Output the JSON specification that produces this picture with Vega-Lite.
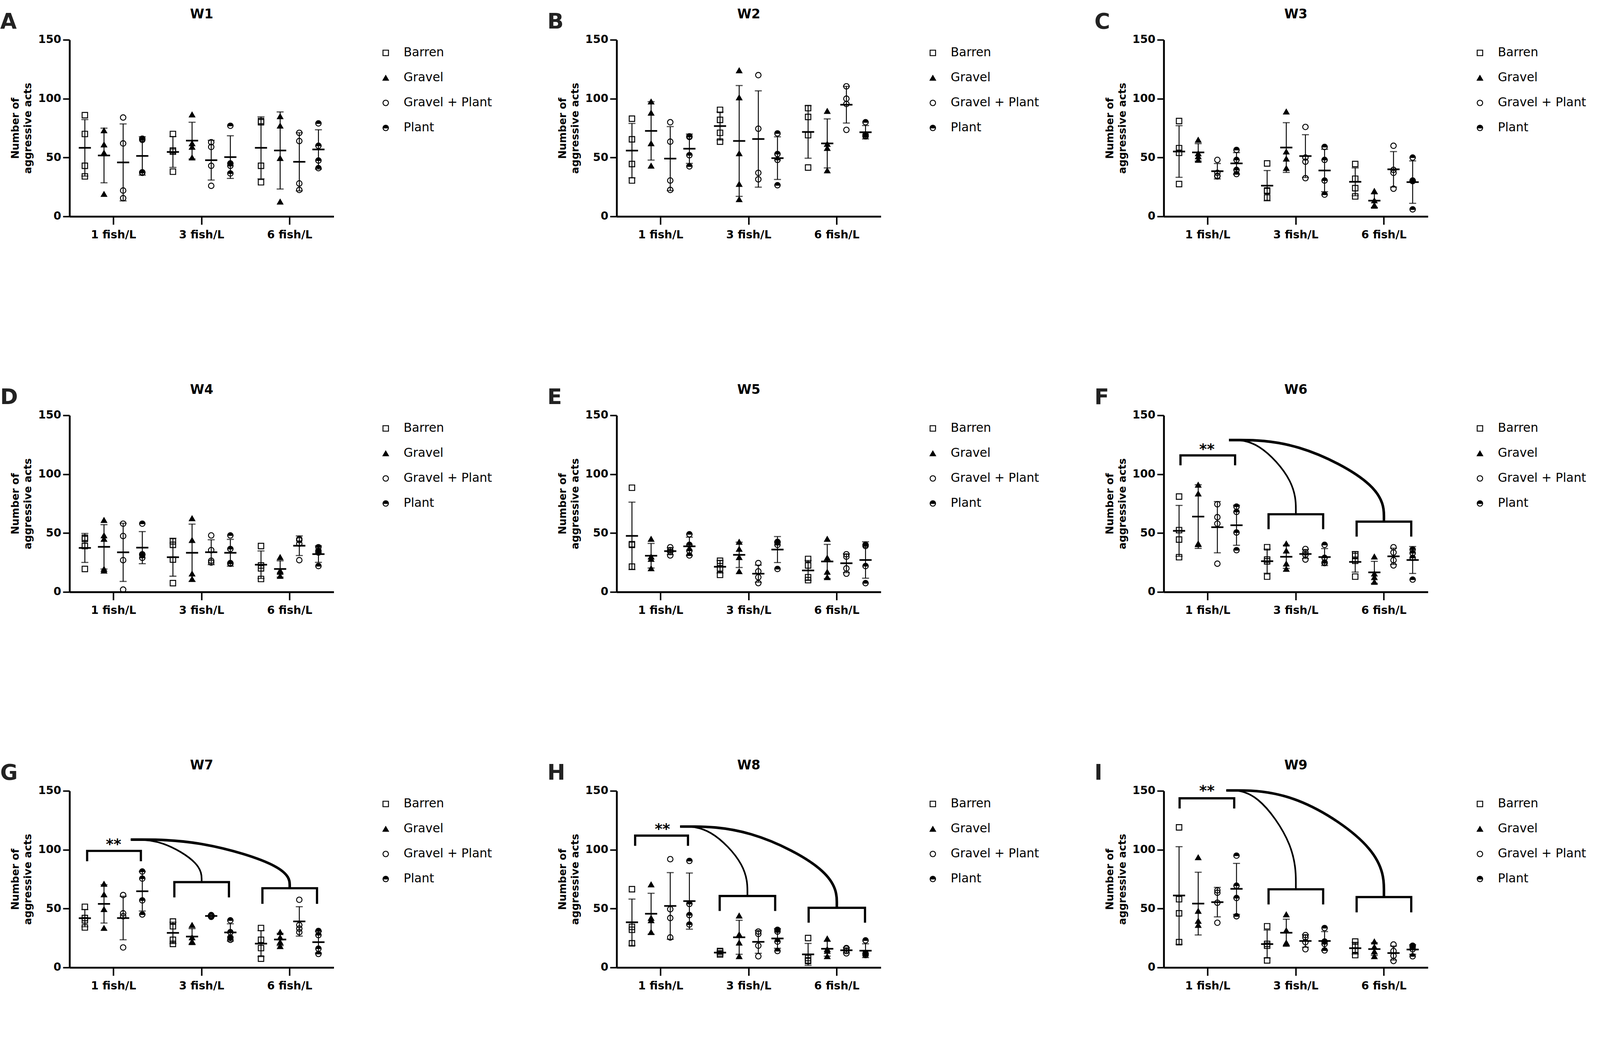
{
  "$schema": "https://vega.github.io/schema/vega-lite/v6.json",
  "background": "white",
  "padding": {"left": 0, "top": 20.9, "right": 2, "bottom": 0},
  "columns": 3,
  "bounds": "full",
  "spacing": {"row": 366, "column": 122.6},
  "resolve": {"scale": {"shape": "independent", "fill": "independent", "stroke": "independent"}},
  "config": {
    "view": {"stroke": null},
    "axis": {"grid": false, "labelFont": "DejaVu Sans", "labelFontWeight": "bold", "labelFontSize": 28.3, "labelColor": "black", "domainColor": "black", "domainWidth": 4.7, "tickColor": "black", "tickWidth": 3.8, "titleFont": "DejaVu Sans", "titleFontWeight": "bold", "titleFontSize": 26.4, "titleColor": "black"},
    "axisY": {"tickSize": 17, "labelPadding": 4.7, "titlePadding": 11.3, "titleLineHeight": 32},
    "axisX": {"tickSize": 20.8, "labelPadding": 13.2, "labelAngle": 0},
    "legend": {"orient": "right", "offset": 99, "padding": 17.9, "labelFont": "DejaVu Sans", "labelFontSize": 31.1, "labelColor": "black", "labelOffset": 30.2, "labelLimit": 600, "rowPadding": 32, "symbolSize": 196, "symbolStrokeWidth": 2.36, "symbolStrokeColor": "black"}
  },
  "datasets": {
    "obs": [
      {"wk":"W1","dens":"1 fish/L","sub":"Barren","acts":86},{"wk":"W1","dens":"1 fish/L","sub":"Barren","acts":70},{"wk":"W1","dens":"1 fish/L","sub":"Barren","acts":43},{"wk":"W1","dens":"1 fish/L","sub":"Barren","acts":34},
      {"wk":"W1","dens":"1 fish/L","sub":"Gravel","acts":73},{"wk":"W1","dens":"1 fish/L","sub":"Gravel","acts":61},{"wk":"W1","dens":"1 fish/L","sub":"Gravel","acts":54},{"wk":"W1","dens":"1 fish/L","sub":"Gravel","acts":19},
      {"wk":"W1","dens":"1 fish/L","sub":"Gravel + Plant","acts":84},{"wk":"W1","dens":"1 fish/L","sub":"Gravel + Plant","acts":62},{"wk":"W1","dens":"1 fish/L","sub":"Gravel + Plant","acts":22},{"wk":"W1","dens":"1 fish/L","sub":"Gravel + Plant","acts":15.5},
      {"wk":"W1","dens":"1 fish/L","sub":"Plant","acts":66},{"wk":"W1","dens":"1 fish/L","sub":"Plant","acts":65},{"wk":"W1","dens":"1 fish/L","sub":"Plant","acts":37.5},{"wk":"W1","dens":"1 fish/L","sub":"Plant","acts":37},
      {"wk":"W1","dens":"3 fish/L","sub":"Barren","acts":70},{"wk":"W1","dens":"3 fish/L","sub":"Barren","acts":56},{"wk":"W1","dens":"3 fish/L","sub":"Barren","acts":55},{"wk":"W1","dens":"3 fish/L","sub":"Barren","acts":38},
      {"wk":"W1","dens":"3 fish/L","sub":"Gravel","acts":86.5},{"wk":"W1","dens":"3 fish/L","sub":"Gravel","acts":62},{"wk":"W1","dens":"3 fish/L","sub":"Gravel","acts":59},{"wk":"W1","dens":"3 fish/L","sub":"Gravel","acts":50},
      {"wk":"W1","dens":"3 fish/L","sub":"Gravel + Plant","acts":63},{"wk":"W1","dens":"3 fish/L","sub":"Gravel + Plant","acts":59},{"wk":"W1","dens":"3 fish/L","sub":"Gravel + Plant","acts":43},{"wk":"W1","dens":"3 fish/L","sub":"Gravel + Plant","acts":26},
      {"wk":"W1","dens":"3 fish/L","sub":"Plant","acts":77},{"wk":"W1","dens":"3 fish/L","sub":"Plant","acts":45},{"wk":"W1","dens":"3 fish/L","sub":"Plant","acts":43},{"wk":"W1","dens":"3 fish/L","sub":"Plant","acts":36.5},
      {"wk":"W1","dens":"6 fish/L","sub":"Barren","acts":81},{"wk":"W1","dens":"6 fish/L","sub":"Barren","acts":80},{"wk":"W1","dens":"6 fish/L","sub":"Barren","acts":43},{"wk":"W1","dens":"6 fish/L","sub":"Barren","acts":29},
      {"wk":"W1","dens":"6 fish/L","sub":"Gravel","acts":85},{"wk":"W1","dens":"6 fish/L","sub":"Gravel","acts":77},{"wk":"W1","dens":"6 fish/L","sub":"Gravel","acts":49.5},{"wk":"W1","dens":"6 fish/L","sub":"Gravel","acts":12.5},
      {"wk":"W1","dens":"6 fish/L","sub":"Gravel + Plant","acts":71},{"wk":"W1","dens":"6 fish/L","sub":"Gravel + Plant","acts":64},{"wk":"W1","dens":"6 fish/L","sub":"Gravel + Plant","acts":28},{"wk":"W1","dens":"6 fish/L","sub":"Gravel + Plant","acts":22.5},
      {"wk":"W1","dens":"6 fish/L","sub":"Plant","acts":79},{"wk":"W1","dens":"6 fish/L","sub":"Plant","acts":60},{"wk":"W1","dens":"6 fish/L","sub":"Plant","acts":47.5},{"wk":"W1","dens":"6 fish/L","sub":"Plant","acts":41},

      {"wk":"W2","dens":"1 fish/L","sub":"Barren","acts":83},{"wk":"W2","dens":"1 fish/L","sub":"Barren","acts":65.5},{"wk":"W2","dens":"1 fish/L","sub":"Barren","acts":44.5},{"wk":"W2","dens":"1 fish/L","sub":"Barren","acts":30.5},
      {"wk":"W2","dens":"1 fish/L","sub":"Gravel","acts":97.5},{"wk":"W2","dens":"1 fish/L","sub":"Gravel","acts":88},{"wk":"W2","dens":"1 fish/L","sub":"Gravel","acts":62},{"wk":"W2","dens":"1 fish/L","sub":"Gravel","acts":43},
      {"wk":"W2","dens":"1 fish/L","sub":"Gravel + Plant","acts":80},{"wk":"W2","dens":"1 fish/L","sub":"Gravel + Plant","acts":63.5},{"wk":"W2","dens":"1 fish/L","sub":"Gravel + Plant","acts":30.5},{"wk":"W2","dens":"1 fish/L","sub":"Gravel + Plant","acts":22.5},
      {"wk":"W2","dens":"1 fish/L","sub":"Plant","acts":68},{"wk":"W2","dens":"1 fish/L","sub":"Plant","acts":67.5},{"wk":"W2","dens":"1 fish/L","sub":"Plant","acts":52},{"wk":"W2","dens":"1 fish/L","sub":"Plant","acts":42.5},
      {"wk":"W2","dens":"3 fish/L","sub":"Barren","acts":90.5},{"wk":"W2","dens":"3 fish/L","sub":"Barren","acts":82},{"wk":"W2","dens":"3 fish/L","sub":"Barren","acts":71},{"wk":"W2","dens":"3 fish/L","sub":"Barren","acts":63.5},
      {"wk":"W2","dens":"3 fish/L","sub":"Gravel","acts":124},{"wk":"W2","dens":"3 fish/L","sub":"Gravel","acts":101},{"wk":"W2","dens":"3 fish/L","sub":"Gravel","acts":53.5},{"wk":"W2","dens":"3 fish/L","sub":"Gravel","acts":27.5},{"wk":"W2","dens":"3 fish/L","sub":"Gravel","acts":14.5},
      {"wk":"W2","dens":"3 fish/L","sub":"Gravel + Plant","acts":120},{"wk":"W2","dens":"3 fish/L","sub":"Gravel + Plant","acts":74.5},{"wk":"W2","dens":"3 fish/L","sub":"Gravel + Plant","acts":37},{"wk":"W2","dens":"3 fish/L","sub":"Gravel + Plant","acts":31.5},
      {"wk":"W2","dens":"3 fish/L","sub":"Plant","acts":70.5},{"wk":"W2","dens":"3 fish/L","sub":"Plant","acts":53},{"wk":"W2","dens":"3 fish/L","sub":"Plant","acts":48},{"wk":"W2","dens":"3 fish/L","sub":"Plant","acts":26.5},
      {"wk":"W2","dens":"6 fish/L","sub":"Barren","acts":92},{"wk":"W2","dens":"6 fish/L","sub":"Barren","acts":84.5},{"wk":"W2","dens":"6 fish/L","sub":"Barren","acts":69},{"wk":"W2","dens":"6 fish/L","sub":"Barren","acts":41.5},
      {"wk":"W2","dens":"6 fish/L","sub":"Gravel","acts":89.5},{"wk":"W2","dens":"6 fish/L","sub":"Gravel","acts":61.5},{"wk":"W2","dens":"6 fish/L","sub":"Gravel","acts":58},{"wk":"W2","dens":"6 fish/L","sub":"Gravel","acts":39},
      {"wk":"W2","dens":"6 fish/L","sub":"Gravel + Plant","acts":110.5},{"wk":"W2","dens":"6 fish/L","sub":"Gravel + Plant","acts":100},{"wk":"W2","dens":"6 fish/L","sub":"Gravel + Plant","acts":95.5},{"wk":"W2","dens":"6 fish/L","sub":"Gravel + Plant","acts":73.5},
      {"wk":"W2","dens":"6 fish/L","sub":"Plant","acts":80},{"wk":"W2","dens":"6 fish/L","sub":"Plant","acts":69.5},{"wk":"W2","dens":"6 fish/L","sub":"Plant","acts":68.5},{"wk":"W2","dens":"6 fish/L","sub":"Plant","acts":68},

      {"wk":"W3","dens":"1 fish/L","sub":"Barren","acts":81},{"wk":"W3","dens":"1 fish/L","sub":"Barren","acts":58},{"wk":"W3","dens":"1 fish/L","sub":"Barren","acts":54},{"wk":"W3","dens":"1 fish/L","sub":"Barren","acts":27.5},
      {"wk":"W3","dens":"1 fish/L","sub":"Gravel","acts":65},{"wk":"W3","dens":"1 fish/L","sub":"Gravel","acts":53.5},{"wk":"W3","dens":"1 fish/L","sub":"Gravel","acts":51},{"wk":"W3","dens":"1 fish/L","sub":"Gravel","acts":48},
      {"wk":"W3","dens":"1 fish/L","sub":"Gravel + Plant","acts":48},{"wk":"W3","dens":"1 fish/L","sub":"Gravel + Plant","acts":37},{"wk":"W3","dens":"1 fish/L","sub":"Gravel + Plant","acts":34.5},{"wk":"W3","dens":"1 fish/L","sub":"Gravel + Plant","acts":34},
      {"wk":"W3","dens":"1 fish/L","sub":"Plant","acts":56.5},{"wk":"W3","dens":"1 fish/L","sub":"Plant","acts":48},{"wk":"W3","dens":"1 fish/L","sub":"Plant","acts":39.5},{"wk":"W3","dens":"1 fish/L","sub":"Plant","acts":36},
      {"wk":"W3","dens":"3 fish/L","sub":"Barren","acts":45},{"wk":"W3","dens":"3 fish/L","sub":"Barren","acts":22},{"wk":"W3","dens":"3 fish/L","sub":"Barren","acts":21.5},{"wk":"W3","dens":"3 fish/L","sub":"Barren","acts":16},
      {"wk":"W3","dens":"3 fish/L","sub":"Gravel","acts":89},{"wk":"W3","dens":"3 fish/L","sub":"Gravel","acts":55},{"wk":"W3","dens":"3 fish/L","sub":"Gravel","acts":49},{"wk":"W3","dens":"3 fish/L","sub":"Gravel","acts":41},
      {"wk":"W3","dens":"3 fish/L","sub":"Gravel + Plant","acts":76},{"wk":"W3","dens":"3 fish/L","sub":"Gravel + Plant","acts":50},{"wk":"W3","dens":"3 fish/L","sub":"Gravel + Plant","acts":46.5},{"wk":"W3","dens":"3 fish/L","sub":"Gravel + Plant","acts":32.5},
      {"wk":"W3","dens":"3 fish/L","sub":"Plant","acts":59},{"wk":"W3","dens":"3 fish/L","sub":"Plant","acts":48},{"wk":"W3","dens":"3 fish/L","sub":"Plant","acts":30.5},{"wk":"W3","dens":"3 fish/L","sub":"Plant","acts":18.5},
      {"wk":"W3","dens":"6 fish/L","sub":"Barren","acts":44.5},{"wk":"W3","dens":"6 fish/L","sub":"Barren","acts":32},{"wk":"W3","dens":"6 fish/L","sub":"Barren","acts":24},{"wk":"W3","dens":"6 fish/L","sub":"Barren","acts":17},
      {"wk":"W3","dens":"6 fish/L","sub":"Gravel","acts":21.5},{"wk":"W3","dens":"6 fish/L","sub":"Gravel","acts":13.5},{"wk":"W3","dens":"6 fish/L","sub":"Gravel","acts":9.5},{"wk":"W3","dens":"6 fish/L","sub":"Gravel","acts":9},
      {"wk":"W3","dens":"6 fish/L","sub":"Gravel + Plant","acts":60},{"wk":"W3","dens":"6 fish/L","sub":"Gravel + Plant","acts":39.5},{"wk":"W3","dens":"6 fish/L","sub":"Gravel + Plant","acts":37},{"wk":"W3","dens":"6 fish/L","sub":"Gravel + Plant","acts":23.5},
      {"wk":"W3","dens":"6 fish/L","sub":"Plant","acts":50},{"wk":"W3","dens":"6 fish/L","sub":"Plant","acts":30.5},{"wk":"W3","dens":"6 fish/L","sub":"Plant","acts":30},{"wk":"W3","dens":"6 fish/L","sub":"Plant","acts":6},

      {"wk":"W4","dens":"1 fish/L","sub":"Barren","acts":46},{"wk":"W4","dens":"1 fish/L","sub":"Barren","acts":45},{"wk":"W4","dens":"1 fish/L","sub":"Barren","acts":39},{"wk":"W4","dens":"1 fish/L","sub":"Barren","acts":19.5},
      {"wk":"W4","dens":"1 fish/L","sub":"Gravel","acts":61},{"wk":"W4","dens":"1 fish/L","sub":"Gravel","acts":48},{"wk":"W4","dens":"1 fish/L","sub":"Gravel","acts":45},{"wk":"W4","dens":"1 fish/L","sub":"Gravel","acts":19.5},{"wk":"W4","dens":"1 fish/L","sub":"Gravel","acts":18},
      {"wk":"W4","dens":"1 fish/L","sub":"Gravel + Plant","acts":58},{"wk":"W4","dens":"1 fish/L","sub":"Gravel + Plant","acts":47.5},{"wk":"W4","dens":"1 fish/L","sub":"Gravel + Plant","acts":27},{"wk":"W4","dens":"1 fish/L","sub":"Gravel + Plant","acts":2},
      {"wk":"W4","dens":"1 fish/L","sub":"Plant","acts":58},{"wk":"W4","dens":"1 fish/L","sub":"Plant","acts":32},{"wk":"W4","dens":"1 fish/L","sub":"Plant","acts":31.5},{"wk":"W4","dens":"1 fish/L","sub":"Plant","acts":29},
      {"wk":"W4","dens":"3 fish/L","sub":"Barren","acts":43},{"wk":"W4","dens":"3 fish/L","sub":"Barren","acts":40},{"wk":"W4","dens":"3 fish/L","sub":"Barren","acts":27.5},{"wk":"W4","dens":"3 fish/L","sub":"Barren","acts":7.5},
      {"wk":"W4","dens":"3 fish/L","sub":"Gravel","acts":62.5},{"wk":"W4","dens":"3 fish/L","sub":"Gravel","acts":44},{"wk":"W4","dens":"3 fish/L","sub":"Gravel","acts":15.5},{"wk":"W4","dens":"3 fish/L","sub":"Gravel","acts":11},
      {"wk":"W4","dens":"3 fish/L","sub":"Gravel + Plant","acts":48},{"wk":"W4","dens":"3 fish/L","sub":"Gravel + Plant","acts":35.5},{"wk":"W4","dens":"3 fish/L","sub":"Gravel + Plant","acts":26.5},{"wk":"W4","dens":"3 fish/L","sub":"Gravel + Plant","acts":25},
      {"wk":"W4","dens":"3 fish/L","sub":"Plant","acts":48},{"wk":"W4","dens":"3 fish/L","sub":"Plant","acts":36.5},{"wk":"W4","dens":"3 fish/L","sub":"Plant","acts":24.5},{"wk":"W4","dens":"3 fish/L","sub":"Plant","acts":24},
      {"wk":"W4","dens":"6 fish/L","sub":"Barren","acts":39},{"wk":"W4","dens":"6 fish/L","sub":"Barren","acts":22.5},{"wk":"W4","dens":"6 fish/L","sub":"Barren","acts":20},{"wk":"W4","dens":"6 fish/L","sub":"Barren","acts":11},
      {"wk":"W4","dens":"6 fish/L","sub":"Gravel","acts":29.5},{"wk":"W4","dens":"6 fish/L","sub":"Gravel","acts":18},{"wk":"W4","dens":"6 fish/L","sub":"Gravel","acts":17},{"wk":"W4","dens":"6 fish/L","sub":"Gravel","acts":13.5},
      {"wk":"W4","dens":"6 fish/L","sub":"Gravel + Plant","acts":45},{"wk":"W4","dens":"6 fish/L","sub":"Gravel + Plant","acts":44},{"wk":"W4","dens":"6 fish/L","sub":"Gravel + Plant","acts":41},{"wk":"W4","dens":"6 fish/L","sub":"Gravel + Plant","acts":27},
      {"wk":"W4","dens":"6 fish/L","sub":"Plant","acts":38},{"wk":"W4","dens":"6 fish/L","sub":"Plant","acts":35},{"wk":"W4","dens":"6 fish/L","sub":"Plant","acts":33.5},{"wk":"W4","dens":"6 fish/L","sub":"Plant","acts":22},

      {"wk":"W5","dens":"1 fish/L","sub":"Barren","acts":88.5},{"wk":"W5","dens":"1 fish/L","sub":"Barren","acts":40.5},{"wk":"W5","dens":"1 fish/L","sub":"Barren","acts":40},{"wk":"W5","dens":"1 fish/L","sub":"Barren","acts":21.5},
      {"wk":"W5","dens":"1 fish/L","sub":"Gravel","acts":45},{"wk":"W5","dens":"1 fish/L","sub":"Gravel","acts":30},{"wk":"W5","dens":"1 fish/L","sub":"Gravel","acts":28},{"wk":"W5","dens":"1 fish/L","sub":"Gravel","acts":20},
      {"wk":"W5","dens":"1 fish/L","sub":"Gravel + Plant","acts":38},{"wk":"W5","dens":"1 fish/L","sub":"Gravel + Plant","acts":35.5},{"wk":"W5","dens":"1 fish/L","sub":"Gravel + Plant","acts":34},{"wk":"W5","dens":"1 fish/L","sub":"Gravel + Plant","acts":31},
      {"wk":"W5","dens":"1 fish/L","sub":"Plant","acts":49},{"wk":"W5","dens":"1 fish/L","sub":"Plant","acts":40},{"wk":"W5","dens":"1 fish/L","sub":"Plant","acts":35},{"wk":"W5","dens":"1 fish/L","sub":"Plant","acts":31},
      {"wk":"W5","dens":"3 fish/L","sub":"Barren","acts":26.5},{"wk":"W5","dens":"3 fish/L","sub":"Barren","acts":24.5},{"wk":"W5","dens":"3 fish/L","sub":"Barren","acts":20},{"wk":"W5","dens":"3 fish/L","sub":"Barren","acts":14.5},
      {"wk":"W5","dens":"3 fish/L","sub":"Gravel","acts":42.5},{"wk":"W5","dens":"3 fish/L","sub":"Gravel","acts":36.5},{"wk":"W5","dens":"3 fish/L","sub":"Gravel","acts":29.5},{"wk":"W5","dens":"3 fish/L","sub":"Gravel","acts":17.5},
      {"wk":"W5","dens":"3 fish/L","sub":"Gravel + Plant","acts":24.5},{"wk":"W5","dens":"3 fish/L","sub":"Gravel + Plant","acts":17.5},{"wk":"W5","dens":"3 fish/L","sub":"Gravel + Plant","acts":12.5},{"wk":"W5","dens":"3 fish/L","sub":"Gravel + Plant","acts":7.5},
      {"wk":"W5","dens":"3 fish/L","sub":"Plant","acts":42.5},{"wk":"W5","dens":"3 fish/L","sub":"Plant","acts":42},{"wk":"W5","dens":"3 fish/L","sub":"Plant","acts":40},{"wk":"W5","dens":"3 fish/L","sub":"Plant","acts":19.5},
      {"wk":"W5","dens":"6 fish/L","sub":"Barren","acts":28},{"wk":"W5","dens":"6 fish/L","sub":"Barren","acts":22.5},{"wk":"W5","dens":"6 fish/L","sub":"Barren","acts":12.5},{"wk":"W5","dens":"6 fish/L","sub":"Barren","acts":10},
      {"wk":"W5","dens":"6 fish/L","sub":"Gravel","acts":45},{"wk":"W5","dens":"6 fish/L","sub":"Gravel","acts":29},{"wk":"W5","dens":"6 fish/L","sub":"Gravel","acts":17},{"wk":"W5","dens":"6 fish/L","sub":"Gravel","acts":12.5},
      {"wk":"W5","dens":"6 fish/L","sub":"Gravel + Plant","acts":32},{"wk":"W5","dens":"6 fish/L","sub":"Gravel + Plant","acts":30},{"wk":"W5","dens":"6 fish/L","sub":"Gravel + Plant","acts":20},{"wk":"W5","dens":"6 fish/L","sub":"Gravel + Plant","acts":15.5},
      {"wk":"W5","dens":"6 fish/L","sub":"Plant","acts":40},{"wk":"W5","dens":"6 fish/L","sub":"Plant","acts":39},{"wk":"W5","dens":"6 fish/L","sub":"Plant","acts":22},{"wk":"W5","dens":"6 fish/L","sub":"Plant","acts":7.5},

      {"wk":"W6","dens":"1 fish/L","sub":"Barren","acts":81},{"wk":"W6","dens":"1 fish/L","sub":"Barren","acts":52.5},{"wk":"W6","dens":"1 fish/L","sub":"Barren","acts":44.5},{"wk":"W6","dens":"1 fish/L","sub":"Barren","acts":29.5},
      {"wk":"W6","dens":"1 fish/L","sub":"Gravel","acts":91},{"wk":"W6","dens":"1 fish/L","sub":"Gravel","acts":83.5},{"wk":"W6","dens":"1 fish/L","sub":"Gravel","acts":41},{"wk":"W6","dens":"1 fish/L","sub":"Gravel","acts":40.5},
      {"wk":"W6","dens":"1 fish/L","sub":"Gravel + Plant","acts":74.5},{"wk":"W6","dens":"1 fish/L","sub":"Gravel + Plant","acts":63.5},{"wk":"W6","dens":"1 fish/L","sub":"Gravel + Plant","acts":58},{"wk":"W6","dens":"1 fish/L","sub":"Gravel + Plant","acts":24},
      {"wk":"W6","dens":"1 fish/L","sub":"Plant","acts":72.5},{"wk":"W6","dens":"1 fish/L","sub":"Plant","acts":68},{"wk":"W6","dens":"1 fish/L","sub":"Plant","acts":50.5},{"wk":"W6","dens":"1 fish/L","sub":"Plant","acts":35.5},
      {"wk":"W6","dens":"3 fish/L","sub":"Barren","acts":38},{"wk":"W6","dens":"3 fish/L","sub":"Barren","acts":27.5},{"wk":"W6","dens":"3 fish/L","sub":"Barren","acts":26},{"wk":"W6","dens":"3 fish/L","sub":"Barren","acts":13},
      {"wk":"W6","dens":"3 fish/L","sub":"Gravel","acts":41},{"wk":"W6","dens":"3 fish/L","sub":"Gravel","acts":35},{"wk":"W6","dens":"3 fish/L","sub":"Gravel","acts":24},{"wk":"W6","dens":"3 fish/L","sub":"Gravel","acts":19.5},
      {"wk":"W6","dens":"3 fish/L","sub":"Gravel + Plant","acts":36.5},{"wk":"W6","dens":"3 fish/L","sub":"Gravel + Plant","acts":33.5},{"wk":"W6","dens":"3 fish/L","sub":"Gravel + Plant","acts":31.5},{"wk":"W6","dens":"3 fish/L","sub":"Gravel + Plant","acts":27.5},
      {"wk":"W6","dens":"3 fish/L","sub":"Plant","acts":40},{"wk":"W6","dens":"3 fish/L","sub":"Plant","acts":29},{"wk":"W6","dens":"3 fish/L","sub":"Plant","acts":25},{"wk":"W6","dens":"3 fish/L","sub":"Plant","acts":24.5},
      {"wk":"W6","dens":"6 fish/L","sub":"Barren","acts":32},{"wk":"W6","dens":"6 fish/L","sub":"Barren","acts":30.5},{"wk":"W6","dens":"6 fish/L","sub":"Barren","acts":26.5},{"wk":"W6","dens":"6 fish/L","sub":"Barren","acts":13},
      {"wk":"W6","dens":"6 fish/L","sub":"Gravel","acts":30},{"wk":"W6","dens":"6 fish/L","sub":"Gravel","acts":15.5},{"wk":"W6","dens":"6 fish/L","sub":"Gravel","acts":12.5},{"wk":"W6","dens":"6 fish/L","sub":"Gravel","acts":8.5},
      {"wk":"W6","dens":"6 fish/L","sub":"Gravel + Plant","acts":38},{"wk":"W6","dens":"6 fish/L","sub":"Gravel + Plant","acts":33.5},{"wk":"W6","dens":"6 fish/L","sub":"Gravel + Plant","acts":27},{"wk":"W6","dens":"6 fish/L","sub":"Gravel + Plant","acts":22.5},
      {"wk":"W6","dens":"6 fish/L","sub":"Plant","acts":36},{"wk":"W6","dens":"6 fish/L","sub":"Plant","acts":33},{"wk":"W6","dens":"6 fish/L","sub":"Plant","acts":29},{"wk":"W6","dens":"6 fish/L","sub":"Plant","acts":10.5},

      {"wk":"W7","dens":"1 fish/L","sub":"Barren","acts":51.5},{"wk":"W7","dens":"1 fish/L","sub":"Barren","acts":42},{"wk":"W7","dens":"1 fish/L","sub":"Barren","acts":40},{"wk":"W7","dens":"1 fish/L","sub":"Barren","acts":34},
      {"wk":"W7","dens":"1 fish/L","sub":"Gravel","acts":71},{"wk":"W7","dens":"1 fish/L","sub":"Gravel","acts":62},{"wk":"W7","dens":"1 fish/L","sub":"Gravel","acts":49.5},{"wk":"W7","dens":"1 fish/L","sub":"Gravel","acts":33.5},
      {"wk":"W7","dens":"1 fish/L","sub":"Gravel + Plant","acts":61.5},{"wk":"W7","dens":"1 fish/L","sub":"Gravel + Plant","acts":46},{"wk":"W7","dens":"1 fish/L","sub":"Gravel + Plant","acts":43.5},{"wk":"W7","dens":"1 fish/L","sub":"Gravel + Plant","acts":17},
      {"wk":"W7","dens":"1 fish/L","sub":"Plant","acts":81.5},{"wk":"W7","dens":"1 fish/L","sub":"Plant","acts":75.5},{"wk":"W7","dens":"1 fish/L","sub":"Plant","acts":57},{"wk":"W7","dens":"1 fish/L","sub":"Plant","acts":45},
      {"wk":"W7","dens":"3 fish/L","sub":"Barren","acts":39},{"wk":"W7","dens":"3 fish/L","sub":"Barren","acts":35},{"wk":"W7","dens":"3 fish/L","sub":"Barren","acts":23.5},{"wk":"W7","dens":"3 fish/L","sub":"Barren","acts":20},
      {"wk":"W7","dens":"3 fish/L","sub":"Gravel","acts":36},{"wk":"W7","dens":"3 fish/L","sub":"Gravel","acts":25.5},{"wk":"W7","dens":"3 fish/L","sub":"Gravel","acts":22},{"wk":"W7","dens":"3 fish/L","sub":"Gravel","acts":21.5},
      {"wk":"W7","dens":"3 fish/L","sub":"Gravel + Plant","acts":44.5},{"wk":"W7","dens":"3 fish/L","sub":"Gravel + Plant","acts":44},{"wk":"W7","dens":"3 fish/L","sub":"Gravel + Plant","acts":43.5},{"wk":"W7","dens":"3 fish/L","sub":"Gravel + Plant","acts":43},
      {"wk":"W7","dens":"3 fish/L","sub":"Plant","acts":40},{"wk":"W7","dens":"3 fish/L","sub":"Plant","acts":30},{"wk":"W7","dens":"3 fish/L","sub":"Plant","acts":25.5},{"wk":"W7","dens":"3 fish/L","sub":"Plant","acts":23.5},
      {"wk":"W7","dens":"6 fish/L","sub":"Barren","acts":33.5},{"wk":"W7","dens":"6 fish/L","sub":"Barren","acts":23.5},{"wk":"W7","dens":"6 fish/L","sub":"Barren","acts":16.5},{"wk":"W7","dens":"6 fish/L","sub":"Barren","acts":7.5},
      {"wk":"W7","dens":"6 fish/L","sub":"Gravel","acts":30},{"wk":"W7","dens":"6 fish/L","sub":"Gravel","acts":25.5},{"wk":"W7","dens":"6 fish/L","sub":"Gravel","acts":21.5},{"wk":"W7","dens":"6 fish/L","sub":"Gravel","acts":18},
      {"wk":"W7","dens":"6 fish/L","sub":"Gravel + Plant","acts":57.5},{"wk":"W7","dens":"6 fish/L","sub":"Gravel + Plant","acts":36},{"wk":"W7","dens":"6 fish/L","sub":"Gravel + Plant","acts":33},{"wk":"W7","dens":"6 fish/L","sub":"Gravel + Plant","acts":30},
      {"wk":"W7","dens":"6 fish/L","sub":"Plant","acts":31},{"wk":"W7","dens":"6 fish/L","sub":"Plant","acts":27.5},{"wk":"W7","dens":"6 fish/L","sub":"Plant","acts":16},{"wk":"W7","dens":"6 fish/L","sub":"Plant","acts":11.5},

      {"wk":"W8","dens":"1 fish/L","sub":"Barren","acts":66.5},{"wk":"W8","dens":"1 fish/L","sub":"Barren","acts":34.5},{"wk":"W8","dens":"1 fish/L","sub":"Barren","acts":32},{"wk":"W8","dens":"1 fish/L","sub":"Barren","acts":20.5},
      {"wk":"W8","dens":"1 fish/L","sub":"Gravel","acts":70.5},{"wk":"W8","dens":"1 fish/L","sub":"Gravel","acts":42},{"wk":"W8","dens":"1 fish/L","sub":"Gravel","acts":40},{"wk":"W8","dens":"1 fish/L","sub":"Gravel","acts":30},
      {"wk":"W8","dens":"1 fish/L","sub":"Gravel + Plant","acts":92},{"wk":"W8","dens":"1 fish/L","sub":"Gravel + Plant","acts":49.5},{"wk":"W8","dens":"1 fish/L","sub":"Gravel + Plant","acts":42},{"wk":"W8","dens":"1 fish/L","sub":"Gravel + Plant","acts":25.5},
      {"wk":"W8","dens":"1 fish/L","sub":"Plant","acts":90.5},{"wk":"W8","dens":"1 fish/L","sub":"Plant","acts":54},{"wk":"W8","dens":"1 fish/L","sub":"Plant","acts":44.5},{"wk":"W8","dens":"1 fish/L","sub":"Plant","acts":36.5},
      {"wk":"W8","dens":"3 fish/L","sub":"Barren","acts":14},{"wk":"W8","dens":"3 fish/L","sub":"Barren","acts":13.5},{"wk":"W8","dens":"3 fish/L","sub":"Barren","acts":12},{"wk":"W8","dens":"3 fish/L","sub":"Barren","acts":11},
      {"wk":"W8","dens":"3 fish/L","sub":"Gravel","acts":44},{"wk":"W8","dens":"3 fish/L","sub":"Gravel","acts":28},{"wk":"W8","dens":"3 fish/L","sub":"Gravel","acts":21},{"wk":"W8","dens":"3 fish/L","sub":"Gravel","acts":9.5},
      {"wk":"W8","dens":"3 fish/L","sub":"Gravel + Plant","acts":30.5},{"wk":"W8","dens":"3 fish/L","sub":"Gravel + Plant","acts":28.5},{"wk":"W8","dens":"3 fish/L","sub":"Gravel + Plant","acts":18.5},{"wk":"W8","dens":"3 fish/L","sub":"Gravel + Plant","acts":9.5},
      {"wk":"W8","dens":"3 fish/L","sub":"Plant","acts":32},{"wk":"W8","dens":"3 fish/L","sub":"Plant","acts":30.5},{"wk":"W8","dens":"3 fish/L","sub":"Plant","acts":22},{"wk":"W8","dens":"3 fish/L","sub":"Plant","acts":14},
      {"wk":"W8","dens":"6 fish/L","sub":"Barren","acts":25},{"wk":"W8","dens":"6 fish/L","sub":"Barren","acts":8},{"wk":"W8","dens":"6 fish/L","sub":"Barren","acts":6},{"wk":"W8","dens":"6 fish/L","sub":"Barren","acts":5.5},
      {"wk":"W8","dens":"6 fish/L","sub":"Gravel","acts":24.5},{"wk":"W8","dens":"6 fish/L","sub":"Gravel","acts":15.5},{"wk":"W8","dens":"6 fish/L","sub":"Gravel","acts":14},{"wk":"W8","dens":"6 fish/L","sub":"Gravel","acts":9.5},
      {"wk":"W8","dens":"6 fish/L","sub":"Gravel + Plant","acts":16.5},{"wk":"W8","dens":"6 fish/L","sub":"Gravel + Plant","acts":16},{"wk":"W8","dens":"6 fish/L","sub":"Gravel + Plant","acts":14},{"wk":"W8","dens":"6 fish/L","sub":"Gravel + Plant","acts":12},
      {"wk":"W8","dens":"6 fish/L","sub":"Plant","acts":23},{"wk":"W8","dens":"6 fish/L","sub":"Plant","acts":12},{"wk":"W8","dens":"6 fish/L","sub":"Plant","acts":11.5},{"wk":"W8","dens":"6 fish/L","sub":"Plant","acts":10.5},

      {"wk":"W9","dens":"1 fish/L","sub":"Barren","acts":119},{"wk":"W9","dens":"1 fish/L","sub":"Barren","acts":58},{"wk":"W9","dens":"1 fish/L","sub":"Barren","acts":46},{"wk":"W9","dens":"1 fish/L","sub":"Barren","acts":21.5},
      {"wk":"W9","dens":"1 fish/L","sub":"Gravel","acts":93.5},{"wk":"W9","dens":"1 fish/L","sub":"Gravel","acts":48},{"wk":"W9","dens":"1 fish/L","sub":"Gravel","acts":39.5},{"wk":"W9","dens":"1 fish/L","sub":"Gravel","acts":36},
      {"wk":"W9","dens":"1 fish/L","sub":"Gravel + Plant","acts":65.5},{"wk":"W9","dens":"1 fish/L","sub":"Gravel + Plant","acts":63.5},{"wk":"W9","dens":"1 fish/L","sub":"Gravel + Plant","acts":55},{"wk":"W9","dens":"1 fish/L","sub":"Gravel + Plant","acts":38},
      {"wk":"W9","dens":"1 fish/L","sub":"Plant","acts":95},{"wk":"W9","dens":"1 fish/L","sub":"Plant","acts":69.5},{"wk":"W9","dens":"1 fish/L","sub":"Plant","acts":59},{"wk":"W9","dens":"1 fish/L","sub":"Plant","acts":43.5},
      {"wk":"W9","dens":"3 fish/L","sub":"Barren","acts":35},{"wk":"W9","dens":"3 fish/L","sub":"Barren","acts":20},{"wk":"W9","dens":"3 fish/L","sub":"Barren","acts":18.5},{"wk":"W9","dens":"3 fish/L","sub":"Barren","acts":6},
      {"wk":"W9","dens":"3 fish/L","sub":"Gravel","acts":45},{"wk":"W9","dens":"3 fish/L","sub":"Gravel","acts":31.5},{"wk":"W9","dens":"3 fish/L","sub":"Gravel","acts":21},{"wk":"W9","dens":"3 fish/L","sub":"Gravel","acts":20.5},
      {"wk":"W9","dens":"3 fish/L","sub":"Gravel + Plant","acts":27.5},{"wk":"W9","dens":"3 fish/L","sub":"Gravel + Plant","acts":25.5},{"wk":"W9","dens":"3 fish/L","sub":"Gravel + Plant","acts":21.5},{"wk":"W9","dens":"3 fish/L","sub":"Gravel + Plant","acts":15.5},
      {"wk":"W9","dens":"3 fish/L","sub":"Plant","acts":33.5},{"wk":"W9","dens":"3 fish/L","sub":"Plant","acts":22},{"wk":"W9","dens":"3 fish/L","sub":"Plant","acts":20},{"wk":"W9","dens":"3 fish/L","sub":"Plant","acts":14.5},
      {"wk":"W9","dens":"6 fish/L","sub":"Barren","acts":22},{"wk":"W9","dens":"6 fish/L","sub":"Barren","acts":18.5},{"wk":"W9","dens":"6 fish/L","sub":"Barren","acts":14.5},{"wk":"W9","dens":"6 fish/L","sub":"Barren","acts":10.5},
      {"wk":"W9","dens":"6 fish/L","sub":"Gravel","acts":22},{"wk":"W9","dens":"6 fish/L","sub":"Gravel","acts":17.5},{"wk":"W9","dens":"6 fish/L","sub":"Gravel","acts":13.5},{"wk":"W9","dens":"6 fish/L","sub":"Gravel","acts":9.5},
      {"wk":"W9","dens":"6 fish/L","sub":"Gravel + Plant","acts":19.5},{"wk":"W9","dens":"6 fish/L","sub":"Gravel + Plant","acts":14},{"wk":"W9","dens":"6 fish/L","sub":"Gravel + Plant","acts":10},{"wk":"W9","dens":"6 fish/L","sub":"Gravel + Plant","acts":5.5},
      {"wk":"W9","dens":"6 fish/L","sub":"Plant","acts":18.5},{"wk":"W9","dens":"6 fish/L","sub":"Plant","acts":17.5},{"wk":"W9","dens":"6 fish/L","sub":"Plant","acts":15.5},{"wk":"W9","dens":"6 fish/L","sub":"Plant","acts":9.5}
    ],
    "marks": [
      {"wk":"W1","k":"letter","t":"A","x":-0.287,"y":159.7},{"wk":"W1","k":"title","t":"W1","x":2,"y":168.2},
      {"wk":"W2","k":"letter","t":"B","x":-0.287,"y":159.7},{"wk":"W2","k":"title","t":"W2","x":2,"y":168.2},
      {"wk":"W3","k":"letter","t":"C","x":-0.287,"y":159.7},{"wk":"W3","k":"title","t":"W3","x":2,"y":168.2},
      {"wk":"W4","k":"letter","t":"D","x":-0.287,"y":159.7},{"wk":"W4","k":"title","t":"W4","x":2,"y":168.2},
      {"wk":"W5","k":"letter","t":"E","x":-0.287,"y":159.7},{"wk":"W5","k":"title","t":"W5","x":2,"y":168.2},
      {"wk":"W6","k":"letter","t":"F","x":-0.287,"y":159.7},{"wk":"W6","k":"title","t":"W6","x":2,"y":168.2},
      {"wk":"W7","k":"letter","t":"G","x":-0.287,"y":159.7},{"wk":"W7","k":"title","t":"W7","x":2,"y":168.2},
      {"wk":"W8","k":"letter","t":"H","x":-0.287,"y":159.7},{"wk":"W8","k":"title","t":"W8","x":2,"y":168.2},
      {"wk":"W9","k":"letter","t":"I","x":-0.287,"y":159.7},{"wk":"W9","k":"title","t":"W9","x":2,"y":168.2},
      {"wk":"W6","k":"star","t":"**","x":0.99,"y":117.2},
      {"wk":"W7","k":"star","t":"**","x":1.0,"y":100.5},
      {"wk":"W8","k":"star","t":"**","x":1.02,"y":113.6},
      {"wk":"W9","k":"star","t":"**","x":0.99,"y":146}
    ],
    "lines": [
      {"wk":"W6","k":"bracket","id":"b1","o":1,"x":0.69,"y":107.6},{"wk":"W6","k":"bracket","id":"b1","o":2,"x":0.69,"y":116},{"wk":"W6","k":"bracket","id":"b1","o":3,"x":1.31,"y":116},{"wk":"W6","k":"bracket","id":"b1","o":4,"x":1.31,"y":107.6},
      {"wk":"W6","k":"bracket","id":"b2","o":1,"x":1.69,"y":53.3},{"wk":"W6","k":"bracket","id":"b2","o":2,"x":1.69,"y":66},{"wk":"W6","k":"bracket","id":"b2","o":3,"x":2.31,"y":66},{"wk":"W6","k":"bracket","id":"b2","o":4,"x":2.31,"y":53.3},
      {"wk":"W6","k":"bracket","id":"b3","o":1,"x":2.69,"y":47},{"wk":"W6","k":"bracket","id":"b3","o":2,"x":2.69,"y":59.7},{"wk":"W6","k":"bracket","id":"b3","o":3,"x":3.31,"y":59.7},{"wk":"W6","k":"bracket","id":"b3","o":4,"x":3.31,"y":47},
      {"wk":"W6","k":"near","id":"c1","o":1,"x":1.24,"y":129},{"wk":"W6","k":"near","id":"c1","o":2,"x":1.567,"y":129},{"wk":"W6","k":"near","id":"c1","o":3,"x":2.0,"y":93.1},{"wk":"W6","k":"near","id":"c1","o":4,"x":2.0,"y":66},
      {"wk":"W6","k":"far","id":"c2","o":1,"x":1.24,"y":129},{"wk":"W6","k":"far","id":"c2","o":2,"x":1.997,"y":129},{"wk":"W6","k":"far","id":"c2","o":3,"x":3.0,"y":89.5},{"wk":"W6","k":"far","id":"c2","o":4,"x":3.0,"y":59.7},

      {"wk":"W7","k":"bracket","id":"b1","o":1,"x":0.70,"y":90.2},{"wk":"W7","k":"bracket","id":"b1","o":2,"x":0.70,"y":99},{"wk":"W7","k":"bracket","id":"b1","o":3,"x":1.31,"y":99},{"wk":"W7","k":"bracket","id":"b1","o":4,"x":1.31,"y":90.2},
      {"wk":"W7","k":"bracket","id":"b2","o":1,"x":1.69,"y":59.5},{"wk":"W7","k":"bracket","id":"b2","o":2,"x":1.69,"y":72.5},{"wk":"W7","k":"bracket","id":"b2","o":3,"x":2.31,"y":72.5},{"wk":"W7","k":"bracket","id":"b2","o":4,"x":2.31,"y":59.5},
      {"wk":"W7","k":"bracket","id":"b3","o":1,"x":2.69,"y":54},{"wk":"W7","k":"bracket","id":"b3","o":2,"x":2.69,"y":67.3},{"wk":"W7","k":"bracket","id":"b3","o":3,"x":3.31,"y":67.3},{"wk":"W7","k":"bracket","id":"b3","o":4,"x":3.31,"y":54},
      {"wk":"W7","k":"near","id":"c1","o":1,"x":1.195,"y":108.6},{"wk":"W7","k":"near","id":"c1","o":2,"x":1.541,"y":108.6},{"wk":"W7","k":"near","id":"c1","o":3,"x":2.0,"y":88.0},{"wk":"W7","k":"near","id":"c1","o":4,"x":2.0,"y":72.5},
      {"wk":"W7","k":"far","id":"c2","o":1,"x":1.195,"y":108.6},{"wk":"W7","k":"far","id":"c2","o":2,"x":1.971,"y":108.6},{"wk":"W7","k":"far","id":"c2","o":3,"x":3.0,"y":85.1},{"wk":"W7","k":"far","id":"c2","o":4,"x":3.0,"y":67.3},

      {"wk":"W8","k":"bracket","id":"b1","o":1,"x":0.71,"y":103.3},{"wk":"W8","k":"bracket","id":"b1","o":2,"x":0.71,"y":112},{"wk":"W8","k":"bracket","id":"b1","o":3,"x":1.31,"y":112},{"wk":"W8","k":"bracket","id":"b1","o":4,"x":1.31,"y":103.3},
      {"wk":"W8","k":"bracket","id":"b2","o":1,"x":1.67,"y":48},{"wk":"W8","k":"bracket","id":"b2","o":2,"x":1.67,"y":60.7},{"wk":"W8","k":"bracket","id":"b2","o":3,"x":2.3,"y":60.7},{"wk":"W8","k":"bracket","id":"b2","o":4,"x":2.3,"y":48},
      {"wk":"W8","k":"bracket","id":"b3","o":1,"x":2.68,"y":38},{"wk":"W8","k":"bracket","id":"b3","o":2,"x":2.68,"y":50.7},{"wk":"W8","k":"bracket","id":"b3","o":3,"x":3.32,"y":50.7},{"wk":"W8","k":"bracket","id":"b3","o":4,"x":3.32,"y":38},
      {"wk":"W8","k":"near","id":"c1","o":1,"x":1.22,"y":119.7},{"wk":"W8","k":"near","id":"c1","o":2,"x":1.555,"y":119.7},{"wk":"W8","k":"near","id":"c1","o":3,"x":1.985,"y":86.1},{"wk":"W8","k":"near","id":"c1","o":4,"x":1.985,"y":60.7},
      {"wk":"W8","k":"far","id":"c2","o":1,"x":1.22,"y":119.7},{"wk":"W8","k":"far","id":"c2","o":2,"x":1.985,"y":119.7},{"wk":"W8","k":"far","id":"c2","o":3,"x":3.0,"y":80.4},{"wk":"W8","k":"far","id":"c2","o":4,"x":3.0,"y":50.7},

      {"wk":"W9","k":"bracket","id":"b1","o":1,"x":0.68,"y":135},{"wk":"W9","k":"bracket","id":"b1","o":2,"x":0.68,"y":143.7},{"wk":"W9","k":"bracket","id":"b1","o":3,"x":1.3,"y":143.7},{"wk":"W9","k":"bracket","id":"b1","o":4,"x":1.3,"y":135},
      {"wk":"W9","k":"bracket","id":"b2","o":1,"x":1.69,"y":53.5},{"wk":"W9","k":"bracket","id":"b2","o":2,"x":1.69,"y":66.4},{"wk":"W9","k":"bracket","id":"b2","o":3,"x":2.31,"y":66.4},{"wk":"W9","k":"bracket","id":"b2","o":4,"x":2.31,"y":53.5},
      {"wk":"W9","k":"bracket","id":"b3","o":1,"x":2.69,"y":46.8},{"wk":"W9","k":"bracket","id":"b3","o":2,"x":2.69,"y":59.8},{"wk":"W9","k":"bracket","id":"b3","o":3,"x":3.31,"y":59.8},{"wk":"W9","k":"bracket","id":"b3","o":4,"x":3.31,"y":46.8},
      {"wk":"W9","k":"near","id":"c1","o":1,"x":1.21,"y":150.4},{"wk":"W9","k":"near","id":"c1","o":2,"x":1.55,"y":150.4},{"wk":"W9","k":"near","id":"c1","o":3,"x":2.0,"y":102.5},{"wk":"W9","k":"near","id":"c1","o":4,"x":2.0,"y":66.4},
      {"wk":"W9","k":"far","id":"c2","o":1,"x":1.21,"y":150.4},{"wk":"W9","k":"far","id":"c2","o":2,"x":1.98,"y":150.4},{"wk":"W9","k":"far","id":"c2","o":3,"x":3.0,"y":98.8},{"wk":"W9","k":"far","id":"c2","o":4,"x":3.0,"y":59.8}
    ]
  },
  "concat": [
    {"width": 676.4, "height": 451.9, "resolve": {"scale": {"x": "independent", "y": "independent"}},
     "layer": [
      {"data": {"name": "obs"}, "transform": [{"filter": "datum.wk == 'W1'"}],
       "encoding": {"x": {"field": "dens", "type": "nominal", "scale": {"domain": ["1 fish/L","3 fish/L","6 fish/L"], "paddingInner": 0, "paddingOuter": 0}, "axis": {"title": null}},
                    "xOffset": {"field": "sub", "type": "nominal", "scale": {"domain": ["Barren","Gravel","Gravel + Plant","Plant"], "paddingInner": 0, "paddingOuter": 0.3}},
                    "y": {"field": "acts", "type": "quantitative", "scale": {"domain": [0, 150]}, "axis": {"title": ["Number of", "aggressive acts"], "values": [0, 50, 100, 150]}}},
       "layer": [
        {"mark": {"type": "errorbar", "extent": "stdev", "color": "black", "rule": {"strokeWidth": 2.36}, "ticks": {"size": 17.9, "thickness": 2.8}}},
        {"mark": {"type": "tick", "color": "black", "size": 31.1, "thickness": 4.25, "opacity": 1},
         "encoding": {"y": {"aggregate": "mean", "field": "acts", "type": "quantitative", "scale": {"domain": [0, 150]}, "axis": {"title": ["Number of", "aggressive acts"], "values": [0, 50, 100, 150]}}}},
        {"mark": {"type": "point", "filled": true, "strokeWidth": 2.36, "size": 196, "opacity": 1},
         "encoding": {"shape": {"field": "sub", "type": "nominal", "scale": {"domain": ["Barren","Gravel","Gravel + Plant","Plant"], "range": ["square","triangle-up","circle","M-1,0A1,1,0,0,1,1,0A1,1,0,0,1,-1,0ZM-1,0A1,1,0,0,0,1,0Z"]}, "legend": {"title": null}},
                      "fill": {"field": "sub", "type": "nominal", "scale": {"domain": ["Barren","Gravel","Gravel + Plant","Plant"], "range": ["transparent","black","transparent","black"]}, "legend": {"title": null}},
                      "stroke": {"field": "sub", "type": "nominal", "scale": {"domain": ["Barren","Gravel","Gravel + Plant","Plant"], "range": ["black","black","black","black"]}, "legend": {"title": null}}}}
       ]},
      {"encoding": {"x": {"field": "x", "type": "quantitative", "scale": {"domain": [0.5, 3.5], "nice": false, "zero": false}, "axis": null},
                    "y": {"field": "y", "type": "quantitative", "scale": {"domain": [0, 150]}, "axis": null}},
       "layer": [
        {"data": {"name": "marks"}, "transform": [{"filter": "datum.wk == 'W1' && datum.k == 'letter'"}],
         "mark": {"type": "text", "font": "DejaVu Sans", "fontWeight": "bold", "fontSize": 54.7, "align": "left", "baseline": "alphabetic", "color": "#222"}, "encoding": {"text": {"field": "t"}}},
        {"data": {"name": "marks"}, "transform": [{"filter": "datum.wk == 'W1' && datum.k == 'title'"}],
         "mark": {"type": "text", "font": "DejaVu Sans", "fontWeight": "bold", "fontSize": 33, "align": "center", "baseline": "alphabetic", "color": "black"}, "encoding": {"text": {"field": "t"}}}
       ]}
     ]},
    {"width": 676.4, "height": 451.9, "resolve": {"scale": {"x": "independent", "y": "independent"}},
     "layer": [
      {"data": {"name": "obs"}, "transform": [{"filter": "datum.wk == 'W2'"}],
       "encoding": {"x": {"field": "dens", "type": "nominal", "scale": {"domain": ["1 fish/L","3 fish/L","6 fish/L"], "paddingInner": 0, "paddingOuter": 0}, "axis": {"title": null}},
                    "xOffset": {"field": "sub", "type": "nominal", "scale": {"domain": ["Barren","Gravel","Gravel + Plant","Plant"], "paddingInner": 0, "paddingOuter": 0.3}},
                    "y": {"field": "acts", "type": "quantitative", "scale": {"domain": [0, 150]}, "axis": {"title": ["Number of", "aggressive acts"], "values": [0, 50, 100, 150]}}},
       "layer": [
        {"mark": {"type": "errorbar", "extent": "stdev", "color": "black", "rule": {"strokeWidth": 2.36}, "ticks": {"size": 17.9, "thickness": 2.8}}},
        {"mark": {"type": "tick", "color": "black", "size": 31.1, "thickness": 4.25, "opacity": 1},
         "encoding": {"y": {"aggregate": "mean", "field": "acts", "type": "quantitative", "scale": {"domain": [0, 150]}, "axis": {"title": ["Number of", "aggressive acts"], "values": [0, 50, 100, 150]}}}},
        {"mark": {"type": "point", "filled": true, "strokeWidth": 2.36, "size": 196, "opacity": 1},
         "encoding": {"shape": {"field": "sub", "type": "nominal", "scale": {"domain": ["Barren","Gravel","Gravel + Plant","Plant"], "range": ["square","triangle-up","circle","M-1,0A1,1,0,0,1,1,0A1,1,0,0,1,-1,0ZM-1,0A1,1,0,0,0,1,0Z"]}, "legend": {"title": null}},
                      "fill": {"field": "sub", "type": "nominal", "scale": {"domain": ["Barren","Gravel","Gravel + Plant","Plant"], "range": ["transparent","black","transparent","black"]}, "legend": {"title": null}},
                      "stroke": {"field": "sub", "type": "nominal", "scale": {"domain": ["Barren","Gravel","Gravel + Plant","Plant"], "range": ["black","black","black","black"]}, "legend": {"title": null}}}}
       ]},
      {"encoding": {"x": {"field": "x", "type": "quantitative", "scale": {"domain": [0.5, 3.5], "nice": false, "zero": false}, "axis": null},
                    "y": {"field": "y", "type": "quantitative", "scale": {"domain": [0, 150]}, "axis": null}},
       "layer": [
        {"data": {"name": "marks"}, "transform": [{"filter": "datum.wk == 'W2' && datum.k == 'letter'"}],
         "mark": {"type": "text", "font": "DejaVu Sans", "fontWeight": "bold", "fontSize": 54.7, "align": "left", "baseline": "alphabetic", "color": "#222"}, "encoding": {"text": {"field": "t"}}},
        {"data": {"name": "marks"}, "transform": [{"filter": "datum.wk == 'W2' && datum.k == 'title'"}],
         "mark": {"type": "text", "font": "DejaVu Sans", "fontWeight": "bold", "fontSize": 33, "align": "center", "baseline": "alphabetic", "color": "black"}, "encoding": {"text": {"field": "t"}}}
       ]}
     ]},
    {"width": 676.4, "height": 451.9, "resolve": {"scale": {"x": "independent", "y": "independent"}},
     "layer": [
      {"data": {"name": "obs"}, "transform": [{"filter": "datum.wk == 'W3'"}],
       "encoding": {"x": {"field": "dens", "type": "nominal", "scale": {"domain": ["1 fish/L","3 fish/L","6 fish/L"], "paddingInner": 0, "paddingOuter": 0}, "axis": {"title": null}},
                    "xOffset": {"field": "sub", "type": "nominal", "scale": {"domain": ["Barren","Gravel","Gravel + Plant","Plant"], "paddingInner": 0, "paddingOuter": 0.3}},
                    "y": {"field": "acts", "type": "quantitative", "scale": {"domain": [0, 150]}, "axis": {"title": ["Number of", "aggressive acts"], "values": [0, 50, 100, 150]}}},
       "layer": [
        {"mark": {"type": "errorbar", "extent": "stdev", "color": "black", "rule": {"strokeWidth": 2.36}, "ticks": {"size": 17.9, "thickness": 2.8}}},
        {"mark": {"type": "tick", "color": "black", "size": 31.1, "thickness": 4.25, "opacity": 1},
         "encoding": {"y": {"aggregate": "mean", "field": "acts", "type": "quantitative", "scale": {"domain": [0, 150]}, "axis": {"title": ["Number of", "aggressive acts"], "values": [0, 50, 100, 150]}}}},
        {"mark": {"type": "point", "filled": true, "strokeWidth": 2.36, "size": 196, "opacity": 1},
         "encoding": {"shape": {"field": "sub", "type": "nominal", "scale": {"domain": ["Barren","Gravel","Gravel + Plant","Plant"], "range": ["square","triangle-up","circle","M-1,0A1,1,0,0,1,1,0A1,1,0,0,1,-1,0ZM-1,0A1,1,0,0,0,1,0Z"]}, "legend": {"title": null}},
                      "fill": {"field": "sub", "type": "nominal", "scale": {"domain": ["Barren","Gravel","Gravel + Plant","Plant"], "range": ["transparent","black","transparent","black"]}, "legend": {"title": null}},
                      "stroke": {"field": "sub", "type": "nominal", "scale": {"domain": ["Barren","Gravel","Gravel + Plant","Plant"], "range": ["black","black","black","black"]}, "legend": {"title": null}}}}
       ]},
      {"encoding": {"x": {"field": "x", "type": "quantitative", "scale": {"domain": [0.5, 3.5], "nice": false, "zero": false}, "axis": null},
                    "y": {"field": "y", "type": "quantitative", "scale": {"domain": [0, 150]}, "axis": null}},
       "layer": [
        {"data": {"name": "marks"}, "transform": [{"filter": "datum.wk == 'W3' && datum.k == 'letter'"}],
         "mark": {"type": "text", "font": "DejaVu Sans", "fontWeight": "bold", "fontSize": 54.7, "align": "left", "baseline": "alphabetic", "color": "#222"}, "encoding": {"text": {"field": "t"}}},
        {"data": {"name": "marks"}, "transform": [{"filter": "datum.wk == 'W3' && datum.k == 'title'"}],
         "mark": {"type": "text", "font": "DejaVu Sans", "fontWeight": "bold", "fontSize": 33, "align": "center", "baseline": "alphabetic", "color": "black"}, "encoding": {"text": {"field": "t"}}}
       ]}
     ]},
    {"width": 676.4, "height": 451.9, "resolve": {"scale": {"x": "independent", "y": "independent"}},
     "layer": [
      {"data": {"name": "obs"}, "transform": [{"filter": "datum.wk == 'W4'"}],
       "encoding": {"x": {"field": "dens", "type": "nominal", "scale": {"domain": ["1 fish/L","3 fish/L","6 fish/L"], "paddingInner": 0, "paddingOuter": 0}, "axis": {"title": null}},
                    "xOffset": {"field": "sub", "type": "nominal", "scale": {"domain": ["Barren","Gravel","Gravel + Plant","Plant"], "paddingInner": 0, "paddingOuter": 0.3}},
                    "y": {"field": "acts", "type": "quantitative", "scale": {"domain": [0, 150]}, "axis": {"title": ["Number of", "aggressive acts"], "values": [0, 50, 100, 150]}}},
       "layer": [
        {"mark": {"type": "errorbar", "extent": "stdev", "color": "black", "rule": {"strokeWidth": 2.36}, "ticks": {"size": 17.9, "thickness": 2.8}}},
        {"mark": {"type": "tick", "color": "black", "size": 31.1, "thickness": 4.25, "opacity": 1},
         "encoding": {"y": {"aggregate": "mean", "field": "acts", "type": "quantitative", "scale": {"domain": [0, 150]}, "axis": {"title": ["Number of", "aggressive acts"], "values": [0, 50, 100, 150]}}}},
        {"mark": {"type": "point", "filled": true, "strokeWidth": 2.36, "size": 196, "opacity": 1},
         "encoding": {"shape": {"field": "sub", "type": "nominal", "scale": {"domain": ["Barren","Gravel","Gravel + Plant","Plant"], "range": ["square","triangle-up","circle","M-1,0A1,1,0,0,1,1,0A1,1,0,0,1,-1,0ZM-1,0A1,1,0,0,0,1,0Z"]}, "legend": {"title": null}},
                      "fill": {"field": "sub", "type": "nominal", "scale": {"domain": ["Barren","Gravel","Gravel + Plant","Plant"], "range": ["transparent","black","transparent","black"]}, "legend": {"title": null}},
                      "stroke": {"field": "sub", "type": "nominal", "scale": {"domain": ["Barren","Gravel","Gravel + Plant","Plant"], "range": ["black","black","black","black"]}, "legend": {"title": null}}}}
       ]},
      {"encoding": {"x": {"field": "x", "type": "quantitative", "scale": {"domain": [0.5, 3.5], "nice": false, "zero": false}, "axis": null},
                    "y": {"field": "y", "type": "quantitative", "scale": {"domain": [0, 150]}, "axis": null}},
       "layer": [
        {"data": {"name": "marks"}, "transform": [{"filter": "datum.wk == 'W4' && datum.k == 'letter'"}],
         "mark": {"type": "text", "font": "DejaVu Sans", "fontWeight": "bold", "fontSize": 54.7, "align": "left", "baseline": "alphabetic", "color": "#222"}, "encoding": {"text": {"field": "t"}}},
        {"data": {"name": "marks"}, "transform": [{"filter": "datum.wk == 'W4' && datum.k == 'title'"}],
         "mark": {"type": "text", "font": "DejaVu Sans", "fontWeight": "bold", "fontSize": 33, "align": "center", "baseline": "alphabetic", "color": "black"}, "encoding": {"text": {"field": "t"}}}
       ]}
     ]},
    {"width": 676.4, "height": 451.9, "resolve": {"scale": {"x": "independent", "y": "independent"}},
     "layer": [
      {"data": {"name": "obs"}, "transform": [{"filter": "datum.wk == 'W5'"}],
       "encoding": {"x": {"field": "dens", "type": "nominal", "scale": {"domain": ["1 fish/L","3 fish/L","6 fish/L"], "paddingInner": 0, "paddingOuter": 0}, "axis": {"title": null}},
                    "xOffset": {"field": "sub", "type": "nominal", "scale": {"domain": ["Barren","Gravel","Gravel + Plant","Plant"], "paddingInner": 0, "paddingOuter": 0.3}},
                    "y": {"field": "acts", "type": "quantitative", "scale": {"domain": [0, 150]}, "axis": {"title": ["Number of", "aggressive acts"], "values": [0, 50, 100, 150]}}},
       "layer": [
        {"mark": {"type": "errorbar", "extent": "stdev", "color": "black", "rule": {"strokeWidth": 2.36}, "ticks": {"size": 17.9, "thickness": 2.8}}},
        {"mark": {"type": "tick", "color": "black", "size": 31.1, "thickness": 4.25, "opacity": 1},
         "encoding": {"y": {"aggregate": "mean", "field": "acts", "type": "quantitative", "scale": {"domain": [0, 150]}, "axis": {"title": ["Number of", "aggressive acts"], "values": [0, 50, 100, 150]}}}},
        {"mark": {"type": "point", "filled": true, "strokeWidth": 2.36, "size": 196, "opacity": 1},
         "encoding": {"shape": {"field": "sub", "type": "nominal", "scale": {"domain": ["Barren","Gravel","Gravel + Plant","Plant"], "range": ["square","triangle-up","circle","M-1,0A1,1,0,0,1,1,0A1,1,0,0,1,-1,0ZM-1,0A1,1,0,0,0,1,0Z"]}, "legend": {"title": null}},
                      "fill": {"field": "sub", "type": "nominal", "scale": {"domain": ["Barren","Gravel","Gravel + Plant","Plant"], "range": ["transparent","black","transparent","black"]}, "legend": {"title": null}},
                      "stroke": {"field": "sub", "type": "nominal", "scale": {"domain": ["Barren","Gravel","Gravel + Plant","Plant"], "range": ["black","black","black","black"]}, "legend": {"title": null}}}}
       ]},
      {"encoding": {"x": {"field": "x", "type": "quantitative", "scale": {"domain": [0.5, 3.5], "nice": false, "zero": false}, "axis": null},
                    "y": {"field": "y", "type": "quantitative", "scale": {"domain": [0, 150]}, "axis": null}},
       "layer": [
        {"data": {"name": "marks"}, "transform": [{"filter": "datum.wk == 'W5' && datum.k == 'letter'"}],
         "mark": {"type": "text", "font": "DejaVu Sans", "fontWeight": "bold", "fontSize": 54.7, "align": "left", "baseline": "alphabetic", "color": "#222"}, "encoding": {"text": {"field": "t"}}},
        {"data": {"name": "marks"}, "transform": [{"filter": "datum.wk == 'W5' && datum.k == 'title'"}],
         "mark": {"type": "text", "font": "DejaVu Sans", "fontWeight": "bold", "fontSize": 33, "align": "center", "baseline": "alphabetic", "color": "black"}, "encoding": {"text": {"field": "t"}}}
       ]}
     ]},
    {"width": 676.4, "height": 451.9, "resolve": {"scale": {"x": "independent", "y": "independent"}},
     "layer": [
      {"data": {"name": "obs"}, "transform": [{"filter": "datum.wk == 'W6'"}],
       "encoding": {"x": {"field": "dens", "type": "nominal", "scale": {"domain": ["1 fish/L","3 fish/L","6 fish/L"], "paddingInner": 0, "paddingOuter": 0}, "axis": {"title": null}},
                    "xOffset": {"field": "sub", "type": "nominal", "scale": {"domain": ["Barren","Gravel","Gravel + Plant","Plant"], "paddingInner": 0, "paddingOuter": 0.3}},
                    "y": {"field": "acts", "type": "quantitative", "scale": {"domain": [0, 150]}, "axis": {"title": ["Number of", "aggressive acts"], "values": [0, 50, 100, 150]}}},
       "layer": [
        {"mark": {"type": "errorbar", "extent": "stdev", "color": "black", "rule": {"strokeWidth": 2.36}, "ticks": {"size": 17.9, "thickness": 2.8}}},
        {"mark": {"type": "tick", "color": "black", "size": 31.1, "thickness": 4.25, "opacity": 1},
         "encoding": {"y": {"aggregate": "mean", "field": "acts", "type": "quantitative", "scale": {"domain": [0, 150]}, "axis": {"title": ["Number of", "aggressive acts"], "values": [0, 50, 100, 150]}}}},
        {"mark": {"type": "point", "filled": true, "strokeWidth": 2.36, "size": 196, "opacity": 1},
         "encoding": {"shape": {"field": "sub", "type": "nominal", "scale": {"domain": ["Barren","Gravel","Gravel + Plant","Plant"], "range": ["square","triangle-up","circle","M-1,0A1,1,0,0,1,1,0A1,1,0,0,1,-1,0ZM-1,0A1,1,0,0,0,1,0Z"]}, "legend": {"title": null}},
                      "fill": {"field": "sub", "type": "nominal", "scale": {"domain": ["Barren","Gravel","Gravel + Plant","Plant"], "range": ["transparent","black","transparent","black"]}, "legend": {"title": null}},
                      "stroke": {"field": "sub", "type": "nominal", "scale": {"domain": ["Barren","Gravel","Gravel + Plant","Plant"], "range": ["black","black","black","black"]}, "legend": {"title": null}}}}
       ]},
      {"encoding": {"x": {"field": "x", "type": "quantitative", "scale": {"domain": [0.5, 3.5], "nice": false, "zero": false}, "axis": null},
                    "y": {"field": "y", "type": "quantitative", "scale": {"domain": [0, 150]}, "axis": null}},
       "layer": [
        {"data": {"name": "lines"}, "transform": [{"filter": "datum.wk == 'W6' && datum.k == 'bracket'"}],
         "mark": {"type": "line", "interpolate": "linear", "color": "black", "strokeWidth": 5.66, "strokeJoin": "miter", "strokeCap": "butt"}, "encoding": {"detail": {"field": "id"}, "order": {"field": "o"}}},
        {"data": {"name": "lines"}, "transform": [{"filter": "datum.wk == 'W6' && datum.k == 'near'"}],
         "mark": {"type": "line", "interpolate": "basis", "color": "black", "strokeWidth": 4.25}, "encoding": {"detail": {"field": "id"}, "order": {"field": "o"}}},
        {"data": {"name": "lines"}, "transform": [{"filter": "datum.wk == 'W6' && datum.k == 'far'"}],
         "mark": {"type": "line", "interpolate": "basis", "color": "black", "strokeWidth": 6.6}, "encoding": {"detail": {"field": "id"}, "order": {"field": "o"}}},
        {"data": {"name": "marks"}, "transform": [{"filter": "datum.wk == 'W6' && datum.k == 'star'"}],
         "mark": {"type": "text", "font": "DejaVu Sans", "fontWeight": "bold", "fontSize": 37.7, "align": "center", "baseline": "alphabetic", "color": "black"}, "encoding": {"text": {"field": "t"}}},
        {"data": {"name": "marks"}, "transform": [{"filter": "datum.wk == 'W6' && datum.k == 'letter'"}],
         "mark": {"type": "text", "font": "DejaVu Sans", "fontWeight": "bold", "fontSize": 54.7, "align": "left", "baseline": "alphabetic", "color": "#222"}, "encoding": {"text": {"field": "t"}}},
        {"data": {"name": "marks"}, "transform": [{"filter": "datum.wk == 'W6' && datum.k == 'title'"}],
         "mark": {"type": "text", "font": "DejaVu Sans", "fontWeight": "bold", "fontSize": 33, "align": "center", "baseline": "alphabetic", "color": "black"}, "encoding": {"text": {"field": "t"}}}
       ]}
     ]},
    {"width": 676.4, "height": 451.9, "resolve": {"scale": {"x": "independent", "y": "independent"}},
     "layer": [
      {"data": {"name": "obs"}, "transform": [{"filter": "datum.wk == 'W7'"}],
       "encoding": {"x": {"field": "dens", "type": "nominal", "scale": {"domain": ["1 fish/L","3 fish/L","6 fish/L"], "paddingInner": 0, "paddingOuter": 0}, "axis": {"title": null}},
                    "xOffset": {"field": "sub", "type": "nominal", "scale": {"domain": ["Barren","Gravel","Gravel + Plant","Plant"], "paddingInner": 0, "paddingOuter": 0.3}},
                    "y": {"field": "acts", "type": "quantitative", "scale": {"domain": [0, 150]}, "axis": {"title": ["Number of", "aggressive acts"], "values": [0, 50, 100, 150]}}},
       "layer": [
        {"mark": {"type": "errorbar", "extent": "stdev", "color": "black", "rule": {"strokeWidth": 2.36}, "ticks": {"size": 17.9, "thickness": 2.8}}},
        {"mark": {"type": "tick", "color": "black", "size": 31.1, "thickness": 4.25, "opacity": 1},
         "encoding": {"y": {"aggregate": "mean", "field": "acts", "type": "quantitative", "scale": {"domain": [0, 150]}, "axis": {"title": ["Number of", "aggressive acts"], "values": [0, 50, 100, 150]}}}},
        {"mark": {"type": "point", "filled": true, "strokeWidth": 2.36, "size": 196, "opacity": 1},
         "encoding": {"shape": {"field": "sub", "type": "nominal", "scale": {"domain": ["Barren","Gravel","Gravel + Plant","Plant"], "range": ["square","triangle-up","circle","M-1,0A1,1,0,0,1,1,0A1,1,0,0,1,-1,0ZM-1,0A1,1,0,0,0,1,0Z"]}, "legend": {"title": null}},
                      "fill": {"field": "sub", "type": "nominal", "scale": {"domain": ["Barren","Gravel","Gravel + Plant","Plant"], "range": ["transparent","black","transparent","black"]}, "legend": {"title": null}},
                      "stroke": {"field": "sub", "type": "nominal", "scale": {"domain": ["Barren","Gravel","Gravel + Plant","Plant"], "range": ["black","black","black","black"]}, "legend": {"title": null}}}}
       ]},
      {"encoding": {"x": {"field": "x", "type": "quantitative", "scale": {"domain": [0.5, 3.5], "nice": false, "zero": false}, "axis": null},
                    "y": {"field": "y", "type": "quantitative", "scale": {"domain": [0, 150]}, "axis": null}},
       "layer": [
        {"data": {"name": "lines"}, "transform": [{"filter": "datum.wk == 'W7' && datum.k == 'bracket'"}],
         "mark": {"type": "line", "interpolate": "linear", "color": "black", "strokeWidth": 5.66, "strokeJoin": "miter", "strokeCap": "butt"}, "encoding": {"detail": {"field": "id"}, "order": {"field": "o"}}},
        {"data": {"name": "lines"}, "transform": [{"filter": "datum.wk == 'W7' && datum.k == 'near'"}],
         "mark": {"type": "line", "interpolate": "basis", "color": "black", "strokeWidth": 4.25}, "encoding": {"detail": {"field": "id"}, "order": {"field": "o"}}},
        {"data": {"name": "lines"}, "transform": [{"filter": "datum.wk == 'W7' && datum.k == 'far'"}],
         "mark": {"type": "line", "interpolate": "basis", "color": "black", "strokeWidth": 6.6}, "encoding": {"detail": {"field": "id"}, "order": {"field": "o"}}},
        {"data": {"name": "marks"}, "transform": [{"filter": "datum.wk == 'W7' && datum.k == 'star'"}],
         "mark": {"type": "text", "font": "DejaVu Sans", "fontWeight": "bold", "fontSize": 37.7, "align": "center", "baseline": "alphabetic", "color": "black"}, "encoding": {"text": {"field": "t"}}},
        {"data": {"name": "marks"}, "transform": [{"filter": "datum.wk == 'W7' && datum.k == 'letter'"}],
         "mark": {"type": "text", "font": "DejaVu Sans", "fontWeight": "bold", "fontSize": 54.7, "align": "left", "baseline": "alphabetic", "color": "#222"}, "encoding": {"text": {"field": "t"}}},
        {"data": {"name": "marks"}, "transform": [{"filter": "datum.wk == 'W7' && datum.k == 'title'"}],
         "mark": {"type": "text", "font": "DejaVu Sans", "fontWeight": "bold", "fontSize": 33, "align": "center", "baseline": "alphabetic", "color": "black"}, "encoding": {"text": {"field": "t"}}}
       ]}
     ]},
    {"width": 676.4, "height": 451.9, "resolve": {"scale": {"x": "independent", "y": "independent"}},
     "layer": [
      {"data": {"name": "obs"}, "transform": [{"filter": "datum.wk == 'W8'"}],
       "encoding": {"x": {"field": "dens", "type": "nominal", "scale": {"domain": ["1 fish/L","3 fish/L","6 fish/L"], "paddingInner": 0, "paddingOuter": 0}, "axis": {"title": null}},
                    "xOffset": {"field": "sub", "type": "nominal", "scale": {"domain": ["Barren","Gravel","Gravel + Plant","Plant"], "paddingInner": 0, "paddingOuter": 0.3}},
                    "y": {"field": "acts", "type": "quantitative", "scale": {"domain": [0, 150]}, "axis": {"title": ["Number of", "aggressive acts"], "values": [0, 50, 100, 150]}}},
       "layer": [
        {"mark": {"type": "errorbar", "extent": "stdev", "color": "black", "rule": {"strokeWidth": 2.36}, "ticks": {"size": 17.9, "thickness": 2.8}}},
        {"mark": {"type": "tick", "color": "black", "size": 31.1, "thickness": 4.25, "opacity": 1},
         "encoding": {"y": {"aggregate": "mean", "field": "acts", "type": "quantitative", "scale": {"domain": [0, 150]}, "axis": {"title": ["Number of", "aggressive acts"], "values": [0, 50, 100, 150]}}}},
        {"mark": {"type": "point", "filled": true, "strokeWidth": 2.36, "size": 196, "opacity": 1},
         "encoding": {"shape": {"field": "sub", "type": "nominal", "scale": {"domain": ["Barren","Gravel","Gravel + Plant","Plant"], "range": ["square","triangle-up","circle","M-1,0A1,1,0,0,1,1,0A1,1,0,0,1,-1,0ZM-1,0A1,1,0,0,0,1,0Z"]}, "legend": {"title": null}},
                      "fill": {"field": "sub", "type": "nominal", "scale": {"domain": ["Barren","Gravel","Gravel + Plant","Plant"], "range": ["transparent","black","transparent","black"]}, "legend": {"title": null}},
                      "stroke": {"field": "sub", "type": "nominal", "scale": {"domain": ["Barren","Gravel","Gravel + Plant","Plant"], "range": ["black","black","black","black"]}, "legend": {"title": null}}}}
       ]},
      {"encoding": {"x": {"field": "x", "type": "quantitative", "scale": {"domain": [0.5, 3.5], "nice": false, "zero": false}, "axis": null},
                    "y": {"field": "y", "type": "quantitative", "scale": {"domain": [0, 150]}, "axis": null}},
       "layer": [
        {"data": {"name": "lines"}, "transform": [{"filter": "datum.wk == 'W8' && datum.k == 'bracket'"}],
         "mark": {"type": "line", "interpolate": "linear", "color": "black", "strokeWidth": 5.66, "strokeJoin": "miter", "strokeCap": "butt"}, "encoding": {"detail": {"field": "id"}, "order": {"field": "o"}}},
        {"data": {"name": "lines"}, "transform": [{"filter": "datum.wk == 'W8' && datum.k == 'near'"}],
         "mark": {"type": "line", "interpolate": "basis", "color": "black", "strokeWidth": 4.25}, "encoding": {"detail": {"field": "id"}, "order": {"field": "o"}}},
        {"data": {"name": "lines"}, "transform": [{"filter": "datum.wk == 'W8' && datum.k == 'far'"}],
         "mark": {"type": "line", "interpolate": "basis", "color": "black", "strokeWidth": 6.6}, "encoding": {"detail": {"field": "id"}, "order": {"field": "o"}}},
        {"data": {"name": "marks"}, "transform": [{"filter": "datum.wk == 'W8' && datum.k == 'star'"}],
         "mark": {"type": "text", "font": "DejaVu Sans", "fontWeight": "bold", "fontSize": 37.7, "align": "center", "baseline": "alphabetic", "color": "black"}, "encoding": {"text": {"field": "t"}}},
        {"data": {"name": "marks"}, "transform": [{"filter": "datum.wk == 'W8' && datum.k == 'letter'"}],
         "mark": {"type": "text", "font": "DejaVu Sans", "fontWeight": "bold", "fontSize": 54.7, "align": "left", "baseline": "alphabetic", "color": "#222"}, "encoding": {"text": {"field": "t"}}},
        {"data": {"name": "marks"}, "transform": [{"filter": "datum.wk == 'W8' && datum.k == 'title'"}],
         "mark": {"type": "text", "font": "DejaVu Sans", "fontWeight": "bold", "fontSize": 33, "align": "center", "baseline": "alphabetic", "color": "black"}, "encoding": {"text": {"field": "t"}}}
       ]}
     ]},
    {"width": 676.4, "height": 451.9, "resolve": {"scale": {"x": "independent", "y": "independent"}},
     "layer": [
      {"data": {"name": "obs"}, "transform": [{"filter": "datum.wk == 'W9'"}],
       "encoding": {"x": {"field": "dens", "type": "nominal", "scale": {"domain": ["1 fish/L","3 fish/L","6 fish/L"], "paddingInner": 0, "paddingOuter": 0}, "axis": {"title": null}},
                    "xOffset": {"field": "sub", "type": "nominal", "scale": {"domain": ["Barren","Gravel","Gravel + Plant","Plant"], "paddingInner": 0, "paddingOuter": 0.3}},
                    "y": {"field": "acts", "type": "quantitative", "scale": {"domain": [0, 150]}, "axis": {"title": ["Number of", "aggressive acts"], "values": [0, 50, 100, 150]}}},
       "layer": [
        {"mark": {"type": "errorbar", "extent": "stdev", "color": "black", "rule": {"strokeWidth": 2.36}, "ticks": {"size": 17.9, "thickness": 2.8}}},
        {"mark": {"type": "tick", "color": "black", "size": 31.1, "thickness": 4.25, "opacity": 1},
         "encoding": {"y": {"aggregate": "mean", "field": "acts", "type": "quantitative", "scale": {"domain": [0, 150]}, "axis": {"title": ["Number of", "aggressive acts"], "values": [0, 50, 100, 150]}}}},
        {"mark": {"type": "point", "filled": true, "strokeWidth": 2.36, "size": 196, "opacity": 1},
         "encoding": {"shape": {"field": "sub", "type": "nominal", "scale": {"domain": ["Barren","Gravel","Gravel + Plant","Plant"], "range": ["square","triangle-up","circle","M-1,0A1,1,0,0,1,1,0A1,1,0,0,1,-1,0ZM-1,0A1,1,0,0,0,1,0Z"]}, "legend": {"title": null}},
                      "fill": {"field": "sub", "type": "nominal", "scale": {"domain": ["Barren","Gravel","Gravel + Plant","Plant"], "range": ["transparent","black","transparent","black"]}, "legend": {"title": null}},
                      "stroke": {"field": "sub", "type": "nominal", "scale": {"domain": ["Barren","Gravel","Gravel + Plant","Plant"], "range": ["black","black","black","black"]}, "legend": {"title": null}}}}
       ]},
      {"encoding": {"x": {"field": "x", "type": "quantitative", "scale": {"domain": [0.5, 3.5], "nice": false, "zero": false}, "axis": null},
                    "y": {"field": "y", "type": "quantitative", "scale": {"domain": [0, 150]}, "axis": null}},
       "layer": [
        {"data": {"name": "lines"}, "transform": [{"filter": "datum.wk == 'W9' && datum.k == 'bracket'"}],
         "mark": {"type": "line", "interpolate": "linear", "color": "black", "strokeWidth": 5.66, "strokeJoin": "miter", "strokeCap": "butt"}, "encoding": {"detail": {"field": "id"}, "order": {"field": "o"}}},
        {"data": {"name": "lines"}, "transform": [{"filter": "datum.wk == 'W9' && datum.k == 'near'"}],
         "mark": {"type": "line", "interpolate": "basis", "color": "black", "strokeWidth": 4.25}, "encoding": {"detail": {"field": "id"}, "order": {"field": "o"}}},
        {"data": {"name": "lines"}, "transform": [{"filter": "datum.wk == 'W9' && datum.k == 'far'"}],
         "mark": {"type": "line", "interpolate": "basis", "color": "black", "strokeWidth": 6.6}, "encoding": {"detail": {"field": "id"}, "order": {"field": "o"}}},
        {"data": {"name": "marks"}, "transform": [{"filter": "datum.wk == 'W9' && datum.k == 'star'"}],
         "mark": {"type": "text", "font": "DejaVu Sans", "fontWeight": "bold", "fontSize": 37.7, "align": "center", "baseline": "alphabetic", "color": "black"}, "encoding": {"text": {"field": "t"}}},
        {"data": {"name": "marks"}, "transform": [{"filter": "datum.wk == 'W9' && datum.k == 'letter'"}],
         "mark": {"type": "text", "font": "DejaVu Sans", "fontWeight": "bold", "fontSize": 54.7, "align": "left", "baseline": "alphabetic", "color": "#222"}, "encoding": {"text": {"field": "t"}}},
        {"data": {"name": "marks"}, "transform": [{"filter": "datum.wk == 'W9' && datum.k == 'title'"}],
         "mark": {"type": "text", "font": "DejaVu Sans", "fontWeight": "bold", "fontSize": 33, "align": "center", "baseline": "alphabetic", "color": "black"}, "encoding": {"text": {"field": "t"}}}
       ]}
     ]}
  ]
}
